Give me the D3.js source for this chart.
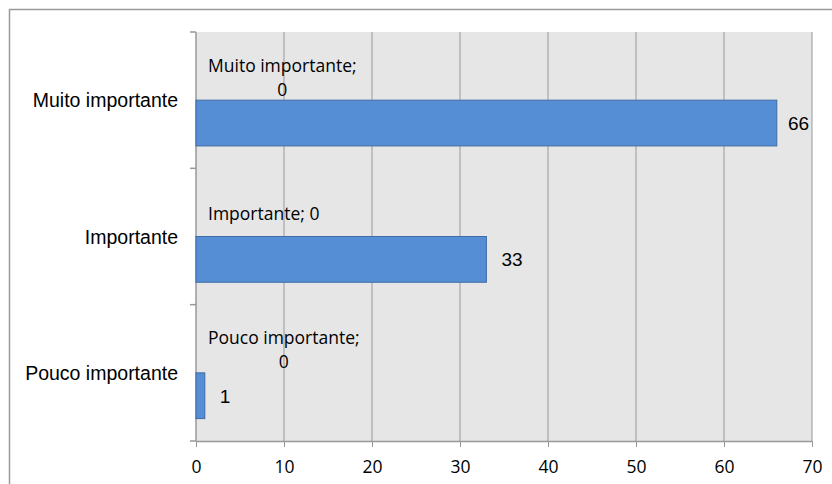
<!DOCTYPE html>
<html>
<head>
<meta charset="UTF-8">
<title>Importancia</title>
<style>
  body { margin: 0; background: #fff; }
  svg { display: block; }
</style>
</head>
<body>
<svg width="832" height="484"></svg>
<script src="https://cdn.jsdelivr.net/npm/d3@7/dist/d3.min.js"></script>
<script>
// dados
var categorias = ["Muito importante", "Importante", "Pouco importante"];
var valores = [66, 33, 1];
var serieZero = [0, 0, 0];
var rotulosZero = [["Muito importante;", "0"], ["Importante; 0"], ["Pouco importante;", "0"]];
var ticks = [0, 10, 20, 30, 40, 50, 60, 70];

var svg = d3.select("svg");
var marge = {top: 32, left: 196, right: 812, bottom: 441};

// borda externa (cortada a direita e embaixo)
svg.append("path")
  .attr("d", "M9.5,484V9.5H832")
  .attr("fill", "none")
  .attr("stroke", "#9a9a9a")
  .attr("stroke-width", 1.5);

var x = d3.scaleLinear().domain([0, 70]).range([marge.left, marge.right]);
var y = d3.scaleBand().domain(categorias).range([marge.top, marge.bottom]).padding(0);
var sub = d3.scaleBand().domain(["zero", "valor"]).range([0, y.bandwidth()])
  .paddingInner(0).paddingOuter(0.49);

// fundo da area
svg.append("rect")
  .attr("x", marge.left).attr("y", marge.top)
  .attr("width", marge.right - marge.left)
  .attr("height", marge.bottom - marge.top)
  .attr("fill", "#e6e6e6");

// grade vertical
svg.append("g")
  .selectAll("line")
  .data(ticks.slice(1))
  .enter().append("line")
  .attr("x1", function(d){ return x(d); })
  .attr("x2", function(d){ return x(d); })
  .attr("y1", marge.top).attr("y2", marge.bottom)
  .attr("stroke", "#999").attr("stroke-width", 1);

// eixo x
var gx = svg.append("g")
  .attr("transform", "translate(0," + marge.bottom + ")")
  .call(d3.axisBottom(x).tickValues(ticks).tickSize(6).tickSizeOuter(0).tickPadding(0));
gx.select(".domain").attr("stroke", "#999").attr("stroke-width", 1.5);
gx.selectAll(".tick line").attr("stroke", "#999");
gx.selectAll(".tick text").remove();
gx.selectAll(".tick").append("text")
  .attr("y", 26).attr("dy", "0.36em")
  .attr("text-anchor", "middle")
  .attr("fill", "#000")
  .style("font-family", "'Open Sans', sans-serif")
  .style("font-size", "17.5px")
  .text(function(d){ return d; });

// eixo y
svg.append("line")
  .attr("x1", marge.left).attr("x2", marge.left)
  .attr("y1", marge.top).attr("y2", marge.bottom)
  .attr("stroke", "#999").attr("stroke-width", 1.5);
var limites = categorias.map(function(c){ return y(c); }).concat([marge.bottom]);
svg.append("g")
  .selectAll("line")
  .data(limites)
  .enter().append("line")
  .attr("x1", marge.left - 6).attr("x2", marge.left)
  .attr("y1", function(d){ return d; }).attr("y2", function(d){ return d; })
  .attr("stroke", "#999").attr("stroke-width", 1.5);

svg.append("g")
  .selectAll("text")
  .data(categorias)
  .enter().append("text")
  .attr("x", marge.left - 18)
  .attr("y", function(d){ return y(d) + y.bandwidth() / 2; })
  .attr("dy", "0.36em")
  .attr("text-anchor", "end")
  .style("font-family", "'Liberation Sans', Arial, sans-serif")
  .style("font-size", "19.5px")
  .text(function(d){ return d; });

// barras
svg.append("g")
  .selectAll("rect")
  .data(valores)
  .enter().append("rect")
  .attr("x", x(0))
  .attr("y", function(d, i){ return y(categorias[i]) + sub("valor"); })
  .attr("width", function(d){ return x(d) - x(0); })
  .attr("height", sub.bandwidth())
  .attr("fill", "#558ed5")
  .attr("stroke", "#3e6ca6")
  .attr("stroke-width", 1);

// rotulos dos valores
svg.append("g")
  .selectAll("text")
  .data(valores)
  .enter().append("text")
  .attr("x", function(d){ return Math.min(x(d) + 15, marge.right - 24); })
  .attr("y", function(d, i){ return y(categorias[i]) + sub("valor") + sub.bandwidth() / 2; })
  .attr("dy", "0.36em")
  .style("font-family", "'Liberation Sans', Arial, sans-serif")
  .style("font-size", "19px")
  .text(function(d){ return d; });

// rotulos da serie zero
var gz = svg.append("g");
serieZero.forEach(function(v, i){
  var linhas = rotulosZero[i];
  var cy = y(categorias[i]) + sub("zero") + sub.bandwidth() / 2;
  var t = gz.append("text")
    .style("font-family", "'Open Sans', sans-serif")
    .style("font-size", "17.5px")
    .attr("text-anchor", "middle");
  var spans = linhas.map(function(l, k){
    return t.append("tspan")
      .attr("y", cy + (k - (linhas.length - 1) / 2) * 24)
      .attr("dy", "0.36em")
      .text(l);
  });
  var w = d3.max(spans, function(s){ return s.node().getComputedTextLength(); });
  spans.forEach(function(s){ s.attr("x", x(v) + 12 + w / 2); });
});
</script>
</body>
</html>
